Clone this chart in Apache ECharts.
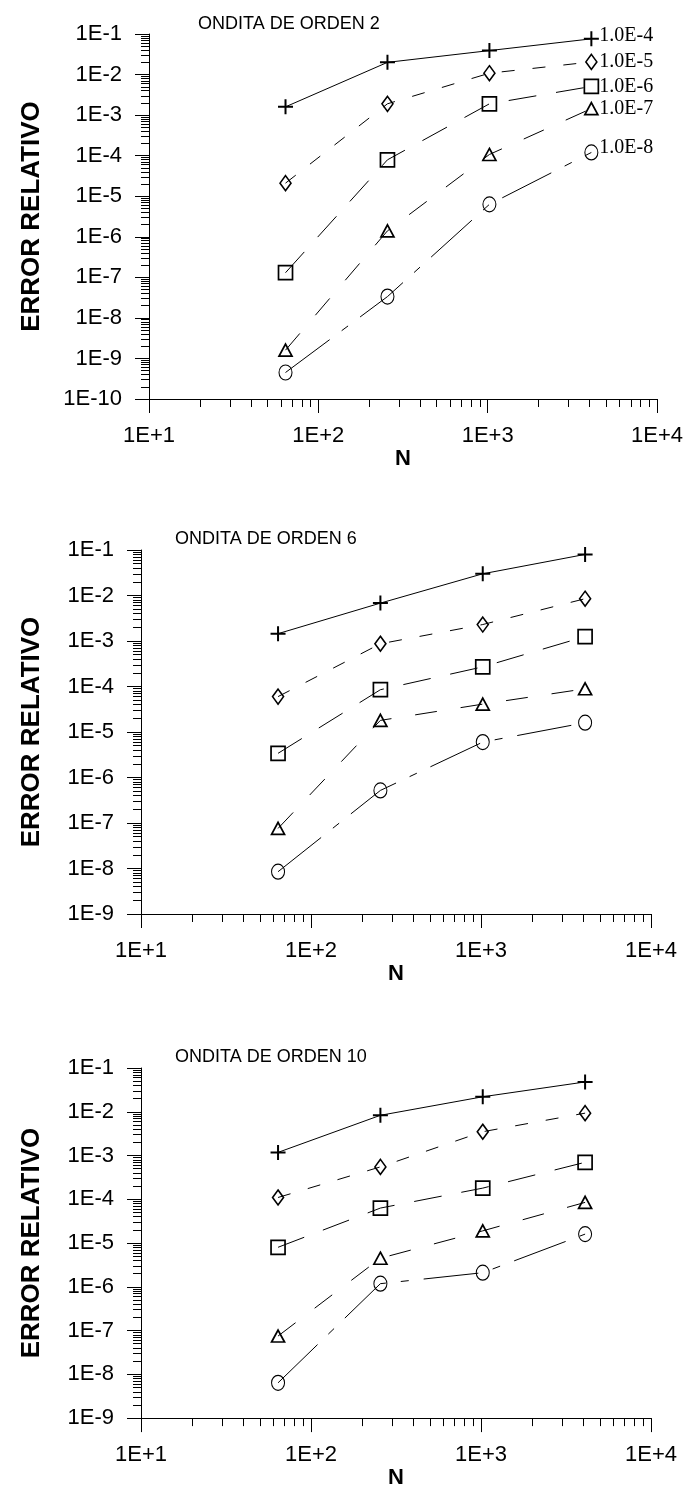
<!DOCTYPE html>
<html><head><meta charset="utf-8">
<script src="https://cdn.jsdelivr.net/npm/echarts@6/dist/echarts.min.js"></script>
<style>html,body{margin:0;padding:0;background:#fff}#c{width:688px;height:1490px}</style>
</head><body><div id="c"></div>
<script>
// ---- data ----
const N = [64, 256, 1024, 4096];
const seriesNames = ['1.0E-4', '1.0E-5', '1.0E-6', '1.0E-7', '1.0E-8'];
const titles = ['ONDITA DE ORDEN 2', 'ONDITA DE ORDEN 6', 'ONDITA DE ORDEN 10'];
const xTickLabels = ['1E+1', '1E+2', '1E+3', '1E+4'];

const orden2_e4 = [1.6e-3, 2.0e-2, 3.9e-2, 7.6e-2];
const orden2_e5 = [2.1e-5, 1.9e-3, 1.08e-2, 2.05e-2];
const orden2_e6 = [1.3e-7, 7.9e-5, 1.9e-3, 5.1e-3];
const orden2_e7 = [1.6e-9, 1.4e-6, 1.07e-4, 1.45e-3];
const orden2_e8 = [4.5e-10, 3.35e-8, 6.3e-6, 1.2e-4];

const orden6_e4 = [1.45e-3, 6.8e-3, 3.0e-2, 8.0e-2];
const orden6_e5 = [6.0e-5, 8.7e-4, 2.3e-3, 8.5e-3];
const orden6_e6 = [3.4e-6, 8.5e-5, 2.7e-4, 1.25e-3];
const orden6_e7 = [7.6e-8, 1.8e-5, 4.1e-5, 8.9e-5];
const orden6_e8 = [8.5e-9, 5.2e-7, 6.0e-6, 1.6e-5];

const orden10_e4 = [1.18e-3, 8.3e-3, 2.2e-2, 4.8e-2];
const orden10_e5 = [1.1e-4, 5.5e-4, 3.5e-3, 9.3e-3];
const orden10_e6 = [8.0e-6, 6.3e-5, 1.8e-4, 7.0e-4];
const orden10_e7 = [7.5e-8, 4.5e-6, 1.9e-5, 8.5e-5];
const orden10_e8 = [6.4e-9, 1.18e-6, 2.1e-6, 1.6e-5];

const yMin = [1e-10, 1e-9, 1e-9];
const yMax = [1e-1, 1e-1, 1e-1];

// ---- styles ----
const SANS = "'Liberation Sans', Arial, sans-serif";
const SERIF = "'Liberation Serif', 'Times New Roman', serif";
const plusPath = 'path://M0,5L10,5M5,0L5,10';
const markers = [
  { symbol: plusPath, size: 15, bw: 2 },
  { symbol: 'diamond', size: [11, 15], bw: 1.6 },
  { symbol: 'rect', size: [14, 14], bw: 1.7 },
  { symbol: 'triangle', size: [13, 12], bw: 1.7 },
  { symbol: 'circle', size: [13, 15], bw: 1.1 }
];
const dashes = ['solid', [13, 18], [28, 20], [22, 24], [55, 15, 8, 15]];
const endOffsets = [[0, -3], [0, 0], [0, 0], [0, 0], [0, -5]];

const grids = [
  { left: 149, right: 31, top: 34, height: 365 },
  { left: 141, right: 37, top: 550, height: 364 },
  { left: 141, right: 37, top: 1068, height: 363 }
];
const titlePos = [ { left: 193, top: 10 }, { left: 170, top: 525 }, { left: 170, top: 1043 } ];

const allData = [
  [orden2_e4, orden2_e5, orden2_e6, orden2_e7, orden2_e8],
  [orden6_e4, orden6_e5, orden6_e6, orden6_e7, orden6_e8],
  [orden10_e4, orden10_e5, orden10_e6, orden10_e7, orden10_e8]
];

function expLabel(v) {
  const e = Math.round(Math.log10(v));
  return '1E' + (e >= 0 ? '+' + e : String(e));
}

const option = {
  animation: false,
  backgroundColor: '#fff',
  title: titles.map((t, i) => ({
    text: t, left: titlePos[i].left, top: titlePos[i].top,
    textStyle: { fontFamily: SANS, fontSize: 18, fontWeight: 'normal', color: '#000' }
  })),
  grid: grids.map(g => Object.assign({ containLabel: false }, g)),
  xAxis: grids.map((g, i) => ({
    type: 'log', logBase: 10, gridIndex: i, min: 10, max: 10000,
    name: 'N', nameLocation: 'middle', nameGap: 29,
    nameTextStyle: { fontFamily: SANS, fontSize: 22, fontWeight: 'bold', color: '#000' },
    axisLine: { show: true, onZero: false, lineStyle: { color: '#000', width: 1 } },
    axisTick: { show: true, length: 14, lineStyle: { color: '#000', width: 1 } },
    minorTick: { show: true, splitNumber: 9, length: 8, lineStyle: { color: '#000', width: 1 } },
    splitLine: { show: false }, minorSplitLine: { show: false },
    axisLabel: { margin: 26, fontFamily: SANS, fontSize: 22, color: '#000',
      formatter: v => xTickLabels[Math.round(Math.log10(v)) - 1] || expLabel(v) }
  })),
  yAxis: grids.map((g, i) => ({
    type: 'log', logBase: 10, gridIndex: i, min: yMin[i], max: yMax[i],
    name: 'ERROR RELATIVO', nameLocation: 'middle', nameGap: i === 0 ? 104 : 96,
    nameTextStyle: { fontFamily: SANS, fontSize: 26, fontWeight: 'bold', color: '#000' },
    axisLine: { show: true, onZero: false, lineStyle: { color: '#000', width: 1 } },
    axisTick: { show: true, length: 14, lineStyle: { color: '#000', width: 1 } },
    minorTick: { show: true, splitNumber: 9, length: 8, lineStyle: { color: '#000', width: 1 } },
    splitLine: { show: false }, minorSplitLine: { show: false },
    axisLabel: { margin: 27, fontFamily: SANS, fontSize: 22, color: '#000', formatter: expLabel }
  })),
  series: []
};

allData.forEach((chartData, ci) => {
  chartData.forEach((vals, si) => {
    const m = markers[si];
    const s = {
      type: 'line', name: seriesNames[si], xAxisIndex: ci, yAxisIndex: ci,
      data: N.map((n, k) => [n, vals[k]]),
      symbol: m.symbol, symbolSize: m.size, showAllSymbol: true,
      itemStyle: { color: 'transparent', borderColor: '#000', borderWidth: m.bw },
      lineStyle: { color: '#000', width: 1, type: dashes[si] },
      emphasis: { disabled: true }, z: 3
    };
    if (ci === 0) {
      s.endLabel = { show: true, formatter: '{a}', distance: 8, offset: endOffsets[si],
        fontFamily: SERIF, fontSize: 20, color: '#000' };
    }
    option.series.push(s);
  });
});

const chart = echarts.init(document.getElementById('c'), null, { renderer: 'canvas' });
chart.setOption(option);
</script>
</body></html>
